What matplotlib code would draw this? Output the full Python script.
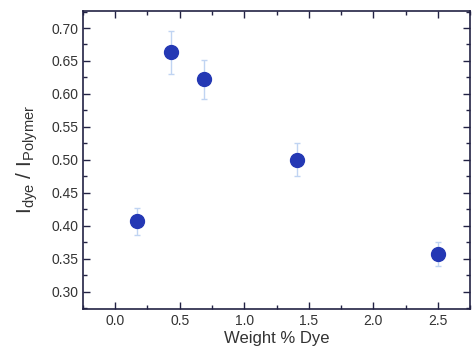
import matplotlib
matplotlib.use('Agg')
import matplotlib.pyplot as plt
from matplotlib.ticker import MultipleLocator

# Data
weight = [0.17, 0.43, 0.69, 1.41, 2.50]
ratio = [0.407, 0.663, 0.622, 0.500, 0.358]
err = [0.020, 0.032, 0.030, 0.025, 0.018]

plt.rcParams['font.family'] = ['Liberation Sans', 'DejaVu Sans']

fig = plt.figure(figsize=(4.74, 3.5), dpi=100)
ax = fig.add_axes([0.175, 0.117, 0.817, 0.852])

ax.errorbar(weight, ratio, yerr=err, fmt='o', color='#2438b4', ms=10,
            ecolor='#c0d4f2', elinewidth=1, capsize=2, capthick=1)

ax.set_xlim(-0.25, 2.75)
ax.set_ylim(0.274, 0.726)
ax.xaxis.set_major_locator(MultipleLocator(0.5))
ax.xaxis.set_minor_locator(MultipleLocator(0.25))
ax.yaxis.set_major_locator(MultipleLocator(0.05))
ax.yaxis.set_minor_locator(MultipleLocator(0.025))
ax.xaxis.set_major_formatter(plt.FormatStrFormatter('%.1f'))
ax.yaxis.set_major_formatter(plt.FormatStrFormatter('%.2f'))
ax.tick_params(which='both', direction='in', top=True, right=True,
               labelsize=10, labelcolor='#333333', color='#222244')
ax.tick_params(which='major', length=5, width=1)
ax.tick_params(which='minor', length=3, width=1)
for s in ax.spines.values():
    s.set_color('#222244')
    s.set_linewidth(1.2)

ax.set_xlabel('Weight % Dye', fontsize=12, color='#333333', labelpad=2)
ax.set_ylabel(r'I$_{\mathregular{dye}}$ / I$_{\mathregular{Polymer}}$', fontsize=15,
              color='#333333', labelpad=8)

fig.savefig('out.png', dpi=100)
